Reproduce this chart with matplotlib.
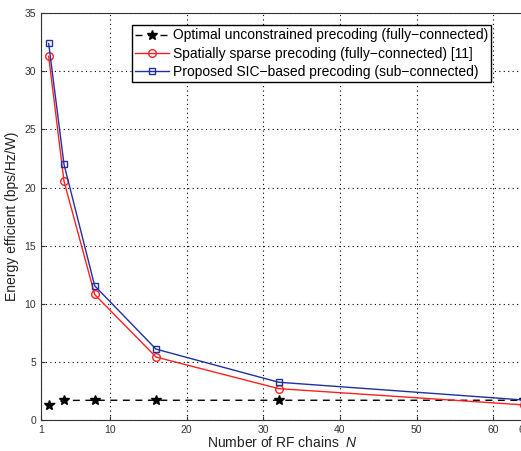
import matplotlib
matplotlib.use('Agg')
import matplotlib.pyplot as plt

plt.rcParams['font.family'] = ['Liberation Sans', 'DejaVu Sans']
plt.rcParams['mathtext.fontset'] = 'custom'
plt.rcParams['mathtext.it'] = 'Liberation Sans:italic'

# number of RF chains
n_rf = [2, 4, 8, 16, 32, 64]

# energy efficiency (bps/Hz/W)
optimal = [1.25, 1.68, 1.70, 1.70, 1.70, 1.70]
sparse = [31.3, 20.55, 10.8, 5.42, 2.7, 1.3]
sic = [32.4, 22.0, 11.55, 6.1, 3.25, 1.72]

legendas = ['Optimal unconstrained precoding (fully\u2212connected)',
            'Spatially sparse precoding (fully\u2212connected) [11]',
            'Proposed SIC\u2212based precoding (sub\u2212connected)']

xticks = [1, 10, 20, 30, 40, 50, 60, 64]
yticks = [0, 5, 10, 15, 20, 25, 30, 35]

fig = plt.figure(figsize=(5.21, 4.51), dpi=100)
ax = fig.add_axes([0.0787, 0.0687, 0.927, 0.902])

ax.plot(n_rf, optimal, color='black', linestyle=(0, (5, 4)), linewidth=1,
        marker='*', markersize=7, label=legendas[0])
ax.plot(n_rf, sparse, color='#ff2020', linewidth=1, marker='o', markersize=5.5,
        markerfacecolor='none', markeredgewidth=1, label=legendas[1])
ax.plot(n_rf, sic, color='#2030a0', linewidth=1, marker='s', markersize=4.5,
        markerfacecolor='none', markeredgewidth=1, label=legendas[2])

ax.set_xlim(1, 64)
ax.set_ylim(0, 35)
ax.set_xticks(xticks)
ax.set_yticks(yticks)
ax.tick_params(labelsize=7.5, colors='#333333', direction='in', length=3)
ax.grid(True, color='black', linestyle=(0, (1, 3)), linewidth=0.8)
for s in ax.spines.values():
    s.set_color('#333333')

ax.set_xlabel('Number of RF chains  $N$', fontsize=10, color='#222222', labelpad=0)
ax.set_ylabel('Energy efficient (bps/Hz/W)', fontsize=10, color='#222222', labelpad=4)

leg = ax.legend(loc='upper left', bbox_to_anchor=(0.188, 0.971), borderaxespad=0,
                fontsize=10, fancybox=False, framealpha=1, edgecolor='black',
                handlelength=2.4, handletextpad=0.3, labelspacing=0.3,
                borderpad=0.25)
leg.get_frame().set_linewidth(1)

plt.savefig('out.png', dpi=100)
